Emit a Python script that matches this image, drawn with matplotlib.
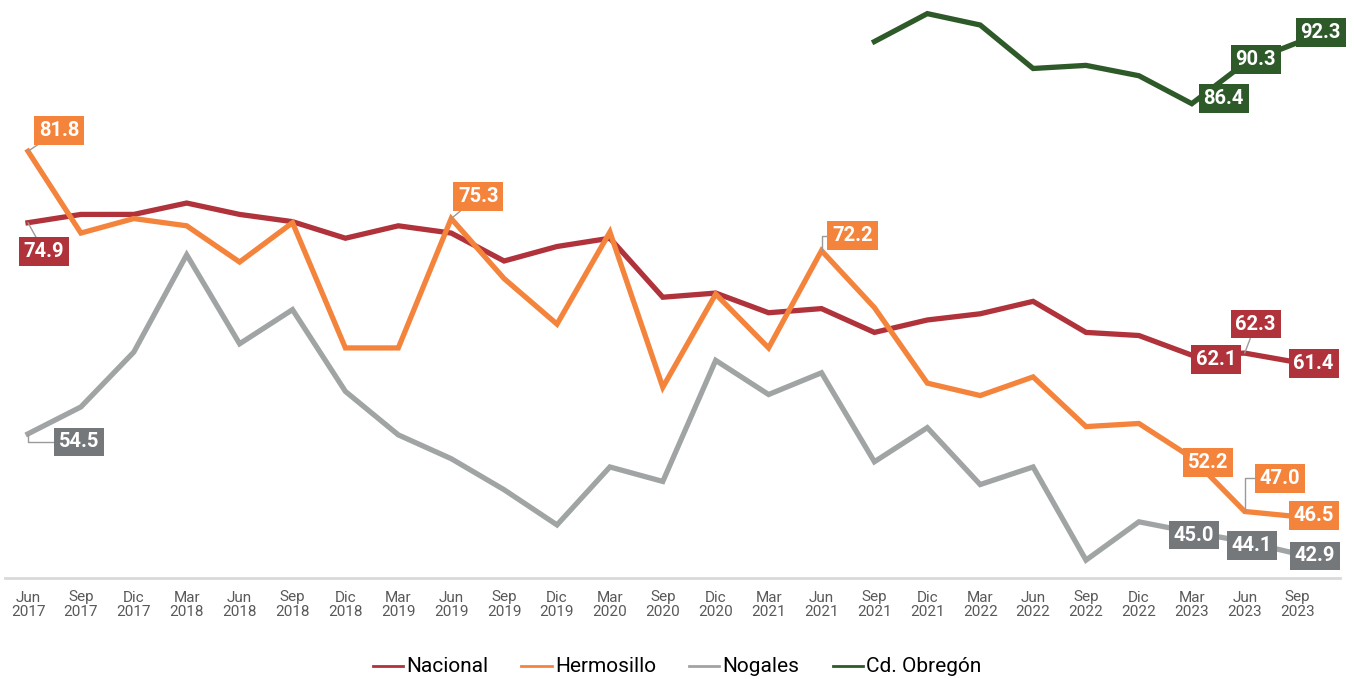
import numpy as np
import matplotlib
matplotlib.use('Agg')
import matplotlib.pyplot as plt
from matplotlib import font_manager

# 字体: 优先窄体
names = {f.name for f in font_manager.fontManager.ttflist}
narrow = 'Liberation Sans Narrow' if 'Liberation Sans Narrow' in names else 'Roboto'
plt.rcParams['font.family'] = [narrow, 'DejaVu Sans']

# 数据
periods = ['Jun\n2017', 'Sep\n2017', 'Dic\n2017', 'Mar\n2018', 'Jun\n2018', 'Sep\n2018',
           'Dic\n2018', 'Mar\n2019', 'Jun\n2019', 'Sep\n2019', 'Dic\n2019', 'Mar\n2020',
           'Sep\n2020', 'Dic\n2020', 'Mar\n2021', 'Jun\n2021', 'Sep\n2021', 'Dic\n2021',
           'Mar\n2022', 'Jun\n2022', 'Sep\n2022', 'Dic\n2022', 'Mar\n2023', 'Jun\n2023',
           'Sep\n2023']
nacional = [74.9, 75.7, 75.7, 76.8, 75.7, 75.0, 73.4, 74.6, 73.9, 71.2, 72.6, 73.4,
            67.7, 68.1, 66.2, 66.6, 64.3, 65.5, 66.1, 67.3, 64.3, 64.0, 62.1, 62.3, 61.4]
hermosillo = [81.8, 73.9, 75.3, 74.6, 71.1, 74.9, 62.8, 62.8, 75.3, 69.5, 65.1, 74.0,
              59.0, 68.0, 62.8, 72.2, 66.7, 59.4, 58.2, 60.0, 55.2, 55.5, 52.2, 47.0, 46.5]
nogales = [54.5, 57.1, 62.4, 71.8, 63.2, 66.5, 58.6, 54.4, 52.1, 49.1, 45.7, 51.3,
           49.9, 61.6, 58.3, 60.4, 51.8, 55.1, 49.6, 51.3, 42.3, 46.0, 45.0, 44.1, 42.9]
obregon = [np.nan] * 16 + [92.4, 95.1, 94.0, 89.8, 90.1, 89.1, 86.4, 90.3, 92.3]

series = [
    ('Nacional', nacional, '#B0323A', '#B0323A'),
    ('Hermosillo', hermosillo, '#F4843C', '#F4843C'),
    ('Nogales', nogales, '#A0A4A4', '#75787B'),
    ('Cd. Obregón', obregon, '#2E5A2A', '#2E5A2A'),
]

# 标签: (系列序号, 点序号, dx像素, dy像素, 引线)
labels = [
    (1, 0, 31, 21, 'line'), (0, 0, 16, -29, 'line'), (2, 0, 51, -8, 'elbow'),
    (1, 8, 27, 22, 'line'), (1, 15, 31, 15, 'elbow'),
    (0, 22, 24, -4, None), (0, 23, 11, 29, 'line'), (0, 24, 16, -1, None),
    (1, 22, 16, -5, None), (1, 23, 35, 33, 'elbow'), (1, 24, 16, 1, None),
    (2, 22, 2, -3, None), (2, 23, 7, -4, None), (2, 24, 17, -2, None),
    (3, 22, 32, 5, None), (3, 23, 11, 4, None), (3, 24, 23, 10, None),
]

W, H = 1354, 679
fig = plt.figure(figsize=(W / 100, H / 100), dpi=100)
ax = fig.add_axes([0, (H - 578) / H, 1, 578 / H])

x = np.arange(len(periods))
for name, vals, lc, bc in series:
    ax.plot(x, vals, color=lc, lw=3.8, label=name, solid_joinstyle='miter', zorder=2)

for si, i, dx, dy, lead in labels:
    name, vals, lc, bc = series[si]
    arrow = None
    if lead == 'line':
        arrow = dict(arrowstyle='-', color='#9a9a9a', lw=1, shrinkA=0, shrinkB=0)
    elif lead == 'elbow':
        arrow = dict(arrowstyle='-', color='#9a9a9a', lw=1, shrinkA=0, shrinkB=0,
                     connectionstyle='angle,angleA=0,angleB=90,rad=0')
    ax.annotate(f'{vals[i]:.1f}', xy=(i, vals[i]), xytext=(dx, dy),
                textcoords='offset pixels', ha='center', va='center',
                fontsize=14.5, fontweight='bold', color='white', family='Roboto',
                bbox=dict(boxstyle='square,pad=0.24', fc=bc, ec='none'),
                arrowprops=arrow, annotation_clip=False, zorder=5)

px = 52.9
ax.set_xlim(-28 / px, (W - 28) / px)
ax.set_ylim(74.9 - (578 - 222.7) / 10.35, 74.9 + 222.7 / 10.35)
for s in ax.spines.values():
    s.set_visible(False)
ax.plot([5 / W, 1340 / W], [0, 0], transform=ax.transAxes, color='#d9d9d9',
        lw=2, clip_on=False)
ax.set_yticks([])
ax.set_xticks(x)
ax.set_xticklabels(periods, fontsize=11, color='#595959', linespacing=1.05)
ax.tick_params(axis='x', length=0, pad=9)

fig.legend(loc='center', bbox_to_anchor=(0.5, (H - 667) / H), ncol=4, frameon=False,
           fontsize=15, handlelength=1.45, handletextpad=0.15, columnspacing=1.6,
           handleheight=0.5)
for l in fig.legends[0].get_lines():
    l.set_linewidth(2)

fig.savefig('out.png', dpi=100)
